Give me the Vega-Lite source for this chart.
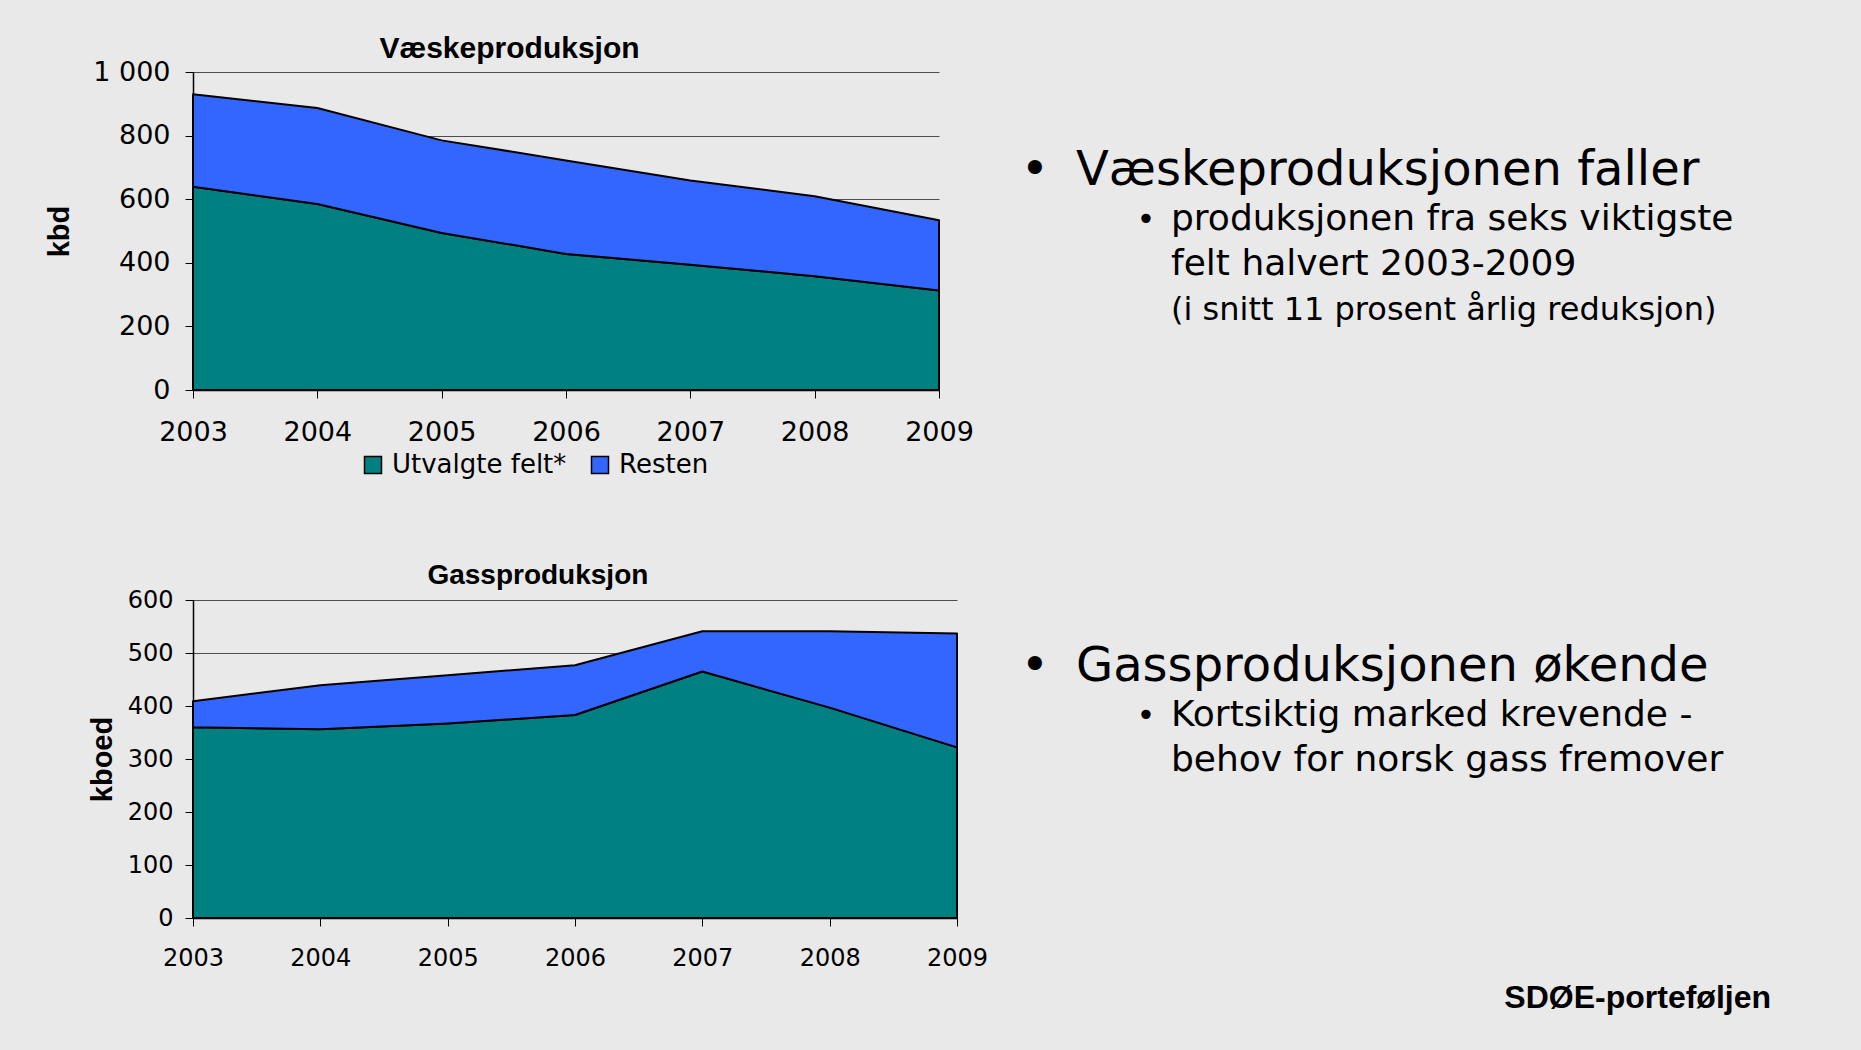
{
  "$schema": "https://vega.github.io/schema/vega-lite/v6.json",
  "autosize": "none",
  "padding": {"left": 193, "top": 72, "right": 1668, "bottom": 978},
  "background": "#E9E9E9",
  "config": {
    "font": "DejaVu Sans",
    "view": {"stroke": null},
    "axis": {"labelColor": "black", "tickColor": "black", "domainColor": "black", "titleColor": "black", "labelFont": "DejaVu Sans", "titleFont": "Liberation Sans", "titleFontWeight": "bold"},
    "legend": {"labelColor": "black", "labelFont": "DejaVu Sans"}
  },
  "datasets": {
    "liquid": [
      {"year": 2003, "series": "Utvalgte felt*", "kbd": 639},
      {"year": 2004, "series": "Utvalgte felt*", "kbd": 585},
      {"year": 2005, "series": "Utvalgte felt*", "kbd": 494},
      {"year": 2006, "series": "Utvalgte felt*", "kbd": 428},
      {"year": 2007, "series": "Utvalgte felt*", "kbd": 394},
      {"year": 2008, "series": "Utvalgte felt*", "kbd": 358},
      {"year": 2009, "series": "Utvalgte felt*", "kbd": 313},
      {"year": 2003, "series": "Resten", "kbd": 291},
      {"year": 2004, "series": "Resten", "kbd": 302},
      {"year": 2005, "series": "Resten", "kbd": 291},
      {"year": 2006, "series": "Resten", "kbd": 294},
      {"year": 2007, "series": "Resten", "kbd": 265},
      {"year": 2008, "series": "Resten", "kbd": 251},
      {"year": 2009, "series": "Resten", "kbd": 221}
    ],
    "gas": [
      {"year": 2003, "series": "Utvalgte felt*", "kboed": 360},
      {"year": 2004, "series": "Utvalgte felt*", "kboed": 356},
      {"year": 2005, "series": "Utvalgte felt*", "kboed": 367},
      {"year": 2006, "series": "Utvalgte felt*", "kboed": 383},
      {"year": 2007, "series": "Utvalgte felt*", "kboed": 465},
      {"year": 2008, "series": "Utvalgte felt*", "kboed": 397},
      {"year": 2009, "series": "Utvalgte felt*", "kboed": 322},
      {"year": 2003, "series": "Resten", "kboed": 49},
      {"year": 2004, "series": "Resten", "kboed": 83},
      {"year": 2005, "series": "Resten", "kboed": 91},
      {"year": 2006, "series": "Resten", "kboed": 94},
      {"year": 2007, "series": "Resten", "kboed": 76},
      {"year": 2008, "series": "Resten", "kboed": 144},
      {"year": 2009, "series": "Resten", "kboed": 215}
    ],
    "notes": [
      {"block": "A", "line": 1, "level": 1, "role": "heading", "bullet": true, "text": "Væskeproduksjonen faller"},
      {"block": "A", "line": 2, "level": 2, "role": "point", "bullet": true, "text": "produksjonen fra seks viktigste"},
      {"block": "A", "line": 3, "level": 2, "role": "point", "bullet": false, "text": "felt halvert 2003-2009"},
      {"block": "A", "line": 4, "level": 2, "role": "note", "bullet": false, "text": "(i snitt 11 prosent årlig reduksjon)"},
      {"block": "B", "line": 1, "level": 1, "role": "heading", "bullet": true, "text": "Gassproduksjonen økende"},
      {"block": "B", "line": 2, "level": 2, "role": "point", "bullet": true, "text": "Kortsiktig marked krevende -"},
      {"block": "B", "line": 3, "level": 2, "role": "point", "bullet": false, "text": "behov for norsk gass fremover"}
    ]
  },
  "columns": 2,
  "spacing": {"row": 210, "column": 64},
  "bounds": "flush",
  "concat": [
    {
      "width": 746,
      "height": 318,
      "data": {"name": "liquid"},
      "title": {"text": "Væskeproduksjon", "font": "Liberation Sans", "fontSize": 30, "fontWeight": "bold", "color": "black", "anchor": "middle", "frame": "bounds", "offset": -6},
      "mark": {"type": "area", "stroke": "black", "strokeWidth": 2, "opacity": 1, "fillOpacity": 1, "strokeJoin": "round"},
      "encoding": {
        "x": {"field": "year", "type": "ordinal", "scale": {"type": "point", "padding": 0},
              "axis": {"title": null, "labelAngle": 0, "labelFontSize": 27, "tickSize": 8, "labelPadding": 21, "domainWidth": 1.5, "grid": false}},
        "y": {"field": "kbd", "type": "quantitative", "stack": "zero", "scale": {"domain": [0, 1000], "nice": false},
              "axis": {"title": "kbd", "titleFontSize": 29, "titlePadding": 18, "values": [0, 200, 400, 600, 800, 1000],
                       "labelExpr": "replace(format(datum.value, ','), ',', ' ')", "labelFontSize": 27, "tickSize": 8, "labelPadding": 15,
                       "grid": true, "gridColor": "#4d4d4d", "gridWidth": 1, "domainWidth": 1.5}},
        "color": {"field": "series", "type": "nominal", "sort": ["Utvalgte felt*", "Resten"],
                  "scale": {"domain": ["Utvalgte felt*", "Resten"], "range": ["#008080", "#3366FF"]},
                  "legend": {"title": null, "orient": "none", "legendX": 167, "legendY": 380, "direction": "horizontal", "padding": 0,
                             "symbolType": "square", "symbolSize": 289, "symbolStrokeColor": "black", "symbolStrokeWidth": 1.5, "symbolOpacity": 1,
                             "labelFontSize": 26, "labelLimit": 400, "labelOffset": 6, "columnPadding": 20}},
        "order": {"field": "series", "sort": "descending"}
      }
    },
    {
      "width": 750,
      "height": 315,
      "data": {"name": "notes"},
      "transform": [{"filter": "datum.block === 'A'"}],
      "layer": [
        {
          "mark": {"type": "text", "align": "left", "baseline": "alphabetic", "font": "DejaVu Sans", "color": "black"},
          "encoding": {
            "x": {"field": "level", "type": "quantitative", "scale": {"domain": [1, 2], "range": [55, 150]}, "axis": null},
            "y": {"field": "line", "type": "quantitative", "scale": {"domain": [-1.5, 5.5], "reverse": true, "nice": false, "zero": false}, "axis": null},
            "size": {"field": "role", "type": "nominal", "scale": {"type": "ordinal", "domain": ["heading", "point", "note"], "range": [48, 36, 32]}, "legend": null},
            "text": {"field": "text"}
          }
        },
        {
          "transform": [{"filter": "datum.bullet"}],
          "mark": {"type": "text", "text": "•", "align": "center", "baseline": "alphabetic", "font": "DejaVu Sans", "color": "black"},
          "encoding": {
            "x": {"field": "level", "type": "quantitative", "scale": {"domain": [1, 2], "range": [14, 125]}, "axis": null},
            "y": {"field": "line", "type": "quantitative", "scale": {"domain": [-1.5, 5.5], "reverse": true, "nice": false, "zero": false}, "axis": null},
            "size": {"field": "role", "type": "nominal", "scale": {"type": "ordinal", "domain": ["heading", "point", "note"], "range": [48, 32, 31]}, "legend": null}
          }
        }
      ],
      "resolve": {"scale": {"x": "independent", "size": "independent"}}
    },
    {
      "width": 764,
      "height": 318,
      "data": {"name": "gas"},
      "title": {"text": "Gassproduksjon", "font": "Liberation Sans", "fontSize": 28, "fontWeight": "bold", "color": "black", "anchor": "middle", "frame": "bounds", "offset": -2},
      "mark": {"type": "area", "stroke": "black", "strokeWidth": 2, "opacity": 1, "fillOpacity": 1, "strokeJoin": "round"},
      "encoding": {
        "x": {"field": "year", "type": "ordinal", "scale": {"type": "point", "padding": 0},
              "axis": {"title": null, "labelAngle": 0, "labelFontSize": 24, "tickSize": 8, "labelPadding": 20, "domainWidth": 1.5, "grid": false}},
        "y": {"field": "kboed", "type": "quantitative", "stack": "zero", "scale": {"domain": [0, 600], "nice": false},
              "axis": {"title": "kboed", "titleFontSize": 29, "titlePadding": 10, "values": [0, 100, 200, 300, 400, 500, 600],
                       "labelFontSize": 24, "tickSize": 8, "labelPadding": 12,
                       "grid": true, "gridColor": "#4d4d4d", "gridWidth": 1, "domainWidth": 1.5}},
        "color": {"field": "series", "type": "nominal", "sort": ["Utvalgte felt*", "Resten"],
                  "scale": {"domain": ["Utvalgte felt*", "Resten"], "range": ["#008080", "#3366FF"]},
                  "legend": {"title": null, "orient": "none", "legendX": 204, "legendY": 376, "direction": "horizontal", "padding": 0,
                             "symbolType": "square", "symbolSize": 196, "symbolStrokeColor": "black", "symbolStrokeWidth": 1.5, "symbolOpacity": 1,
                             "labelFontSize": 25, "labelLimit": 400, "labelOffset": 5, "columnPadding": 18}},
        "order": {"field": "series", "sort": "descending"}
      }
    },
    {
      "width": 750,
      "height": 315,
      "data": {"name": "notes"},
      "transform": [{"filter": "datum.block === 'B'"}],
      "title": {"text": "SDØE-porteføljen", "orient": "bottom", "anchor": "end", "frame": "group", "font": "Liberation Sans", "fontSize": 32, "fontWeight": "bold", "color": "black", "offset": 68},
      "layer": [
        {
          "mark": {"type": "text", "align": "left", "baseline": "alphabetic", "font": "DejaVu Sans", "color": "black"},
          "encoding": {
            "x": {"field": "level", "type": "quantitative", "scale": {"domain": [1, 2], "range": [55, 150]}, "axis": null},
            "y": {"field": "line", "type": "quantitative", "scale": {"domain": [-0.8, 6.2], "reverse": true, "nice": false, "zero": false}, "axis": null},
            "size": {"field": "role", "type": "nominal", "scale": {"type": "ordinal", "domain": ["heading", "point", "note"], "range": [48, 36, 32]}, "legend": null},
            "text": {"field": "text"}
          }
        },
        {
          "transform": [{"filter": "datum.bullet"}],
          "mark": {"type": "text", "text": "•", "align": "center", "baseline": "alphabetic", "font": "DejaVu Sans", "color": "black"},
          "encoding": {
            "x": {"field": "level", "type": "quantitative", "scale": {"domain": [1, 2], "range": [14, 125]}, "axis": null},
            "y": {"field": "line", "type": "quantitative", "scale": {"domain": [-0.8, 6.2], "reverse": true, "nice": false, "zero": false}, "axis": null},
            "size": {"field": "role", "type": "nominal", "scale": {"type": "ordinal", "domain": ["heading", "point", "note"], "range": [48, 32, 31]}, "legend": null}
          }
        }
      ],
      "resolve": {"scale": {"x": "independent", "size": "independent"}}
    }
  ]
}
